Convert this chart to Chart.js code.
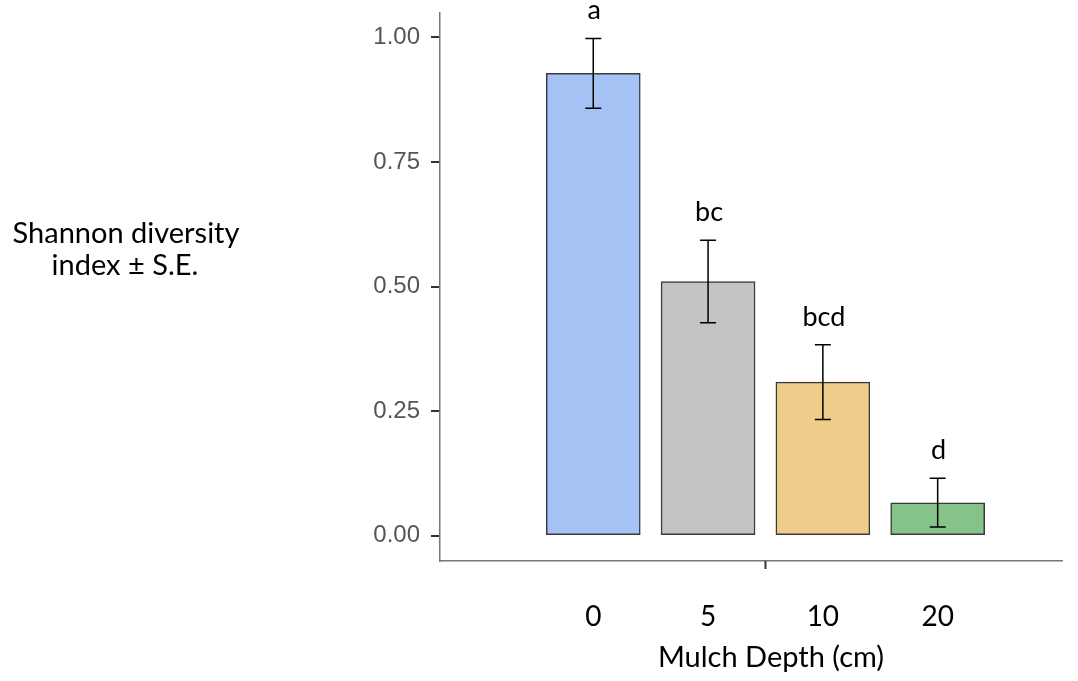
<!DOCTYPE html>
<html>
<head>
<meta charset="utf-8">
<script src="https://cdn.jsdelivr.net/npm/chart.js@4/dist/chart.umd.min.js"></script>
<style>
  body { margin: 0; background: #fff; }
  #chart { display: block; }
</style>
</head>
<body>
<canvas id="chart" width="1078" height="681"></canvas>
<script>
// data
const depths = ["0", "5", "10", "20"];
const means = [0.928, 0.510, 0.308, 0.066];
const se = [0.070, 0.083, 0.075, 0.049];
const letters = ["a", "bc", "bcd", "d"];
const barColors = ["#a4c2f4", "#c4c4c4", "#f0cc8a", "#86c388"];
const yTicks = [0, 0.25, 0.5, 0.75, 1];

const textFont = "Lato, 'Open Sans', sans-serif";

const annotate = {
  id: "annotate",
  afterDatasetsDraw(chart) {
    const ctx = chart.ctx;
    const x = chart.scales.x;
    const y = chart.scales.y;
    const meta = chart.getDatasetMeta(0);

    ctx.save();
    // error bars
    ctx.strokeStyle = "#000";
    ctx.lineWidth = 1.5;
    meta.data.forEach((bar, i) => {
      const top = y.getPixelForValue(means[i] + se[i]);
      const bot = y.getPixelForValue(means[i] - se[i]);
      ctx.beginPath();
      ctx.moveTo(bar.x, top);
      ctx.lineTo(bar.x, bot);
      ctx.moveTo(bar.x - 8, top);
      ctx.lineTo(bar.x + 8, top);
      ctx.moveTo(bar.x - 8, bot);
      ctx.lineTo(bar.x + 8, bot);
      ctx.stroke();

      // significance letters
      ctx.fillStyle = "#000";
      ctx.font = "27px " + textFont;
      ctx.textAlign = "center";
      ctx.textBaseline = "alphabetic";
      ctx.fillText(letters[i], bar.x + 1, top - 19);
    });

    // single tick under the x axis
    const mid = x.getPixelForValue(1.5);
    ctx.strokeStyle = "#333";
    ctx.lineWidth = 2;
    ctx.beginPath();
    ctx.moveTo(mid, x.top);
    ctx.lineTo(mid, x.top + 8);
    ctx.stroke();

    // axis titles
    ctx.fillStyle = "#000";
    ctx.font = "29px " + textFont;
    ctx.textAlign = "center";
    ctx.fillText("Mulch Depth (cm)", 771, 667);
    ctx.fillText("Shannon diversity", 126, 243);
    ctx.fillText("index \u00b1 S.E.", 125, 275);
    ctx.restore();
  }
};

new Chart(document.getElementById("chart"), {
  type: "bar",
  data: {
    datasets: [{
      data: means.map((m, i) => ({ x: i, y: m })),
      backgroundColor: barColors,
      borderColor: "#3a3a3a",
      borderWidth: 1.5,
      borderSkipped: false,
      barThickness: 94
    }]
  },
  options: {
    responsive: false,
    animation: false,
    devicePixelRatio: 1,
    layout: { padding: { top: 13, right: 16, left: 0, bottom: 0 } },
    plugins: {
      legend: { display: false },
      tooltip: { enabled: false }
    },
    scales: {
      x: {
        type: "linear",
        offset: false,
        min: -1.335,
        max: 4.083,
        afterBuildTicks: scale => { scale.ticks = depths.map((d, i) => ({ value: i })); },
        afterFit: scale => {
          scale.height = 120;
          scale.paddingLeft = 0;
          scale.paddingRight = 0;
        },
        border: { display: true, color: "#777", width: 1.5 },
        grid: { drawOnChartArea: false, drawTicks: false, offset: false },
        ticks: {
          padding: 39,
          color: "#000",
          font: { family: textFont, size: 28 },
          callback: v => depths[v]
        }
      },
      y: {
        min: -0.051,
        max: 1.049,
        afterBuildTicks: scale => { scale.ticks = yTicks.map(v => ({ value: v })); },
        afterFit: scale => {
          scale.width = 440;
          scale.paddingTop = 0;
          scale.paddingBottom = 0;
        },
        border: { display: true, color: "#777", width: 1.5 },
        grid: { drawOnChartArea: false, drawTicks: true, tickLength: 9, tickColor: "#333", lineWidth: 2 },
        ticks: {
          padding: 11,
          color: "#555",
          font: { family: "'Liberation Sans', Arial, sans-serif", size: 24 },
          callback: v => v.toFixed(2)
        }
      }
    }
  },
  plugins: [annotate]
});
</script>
</body>
</html>
